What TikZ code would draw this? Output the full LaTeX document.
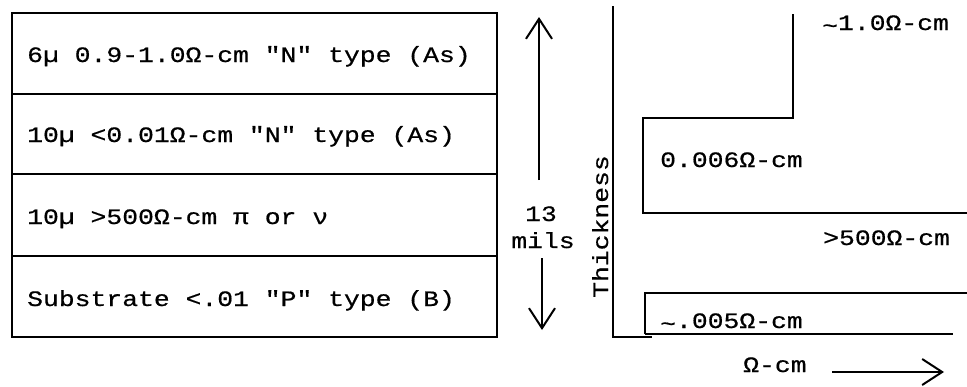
\documentclass[tikz,border=0pt]{standalone}
\usepackage{fontspec}
\newfontfamily\tw[FakeStretch=1.2,FakeBold=0.6]{Liberation Mono}
\usetikzlibrary{arrows.meta}
\newcommand{\wavy}{\raisebox{-3pt}{\textasciitilde}}
\tikzset{
  lbl/.style={font=\tw\fontsize{22}{26}\selectfont, inner sep=0pt, anchor=base west},
  lblc/.style={font=\tw\fontsize{22}{26}\selectfont, inner sep=0pt, anchor=base},
  ln/.style={line width=2pt, line join=miter},
  barb/.style={line width=2pt, -{Straight Barb[length=20pt,width=26pt,line width=2pt]}}
}
\begin{document}
\begin{tikzpicture}[x=1pt,y=-1pt]
\useasboundingbox (0,0) rectangle (967,386);
% layered box
\draw[ln] (12,13) rectangle (497,337);
\coordinate (d1l) at (12,94);  \coordinate (d1r) at (497,94);
\coordinate (d2l) at (12,174); \coordinate (d2r) at (497,174);
\coordinate (d3l) at (12,256); \coordinate (d3r) at (497,256);
\draw[ln] (d1l) -- (d1r);
\draw[ln] (d2l) -- (d2r);
\draw[ln] (d3l) -- (d3r);
\node[lbl] (r1) at (27,62) {6µ 0.9-1.0Ω-cm "N" type (As)};
\node[lbl] (r2) at (27,142) {10µ <0.01Ω-cm "N" type (As)};
\node[lbl] (r3) at (27,224) {10µ >500Ω-cm π or ν};
\node[lbl] (r4) at (27,306) {Substrate <.01 "P" type (B)};
% 13 mils dimension
\node[lblc] (n13) at (541,221) {13};
\node[lblc] (mils) at (543,248) {mils};
\coordinate (upS) at (539,180); \coordinate (upT) at (539,17);
\coordinate (dnS) at (542,258); \coordinate (dnT) at (542,330);
\draw[barb] (upS) -- (upT);
\draw[barb] (dnS) -- (dnT);
% thickness axis
\node[lbl, rotate=90] (thick) at (608,298) {Thickness};
\coordinate (axT) at (613,6); \coordinate (axO) at (613,337); \coordinate (axR) at (652,337);
\draw[ln] (axT) -- (axO) -- (axR);
\coordinate (b0) at (645,334); \coordinate (b1) at (953,334);
\draw[ln] (b0) -- (b1);
% lower step
\coordinate (s1) at (645,293); \coordinate (s2) at (967,293);
\draw[ln] (b0) -- (s1) -- (s2);
% upper step
\coordinate (u0) at (967,213); \coordinate (u1) at (643,213);
\coordinate (u2) at (643,118); \coordinate (u3) at (793,118);
\coordinate (u4) at (793,14);
\draw[ln] (u0) -- (u1) -- (u2) -- (u3) -- (u4);
% labels
\node[lbl] (l1) at (822,30) {\wavy1.0Ω-cm};
\node[lbl] (l2) at (660,167) {0.006Ω-cm};
\node[lbl] (l3) at (823,245) {>500Ω-cm};
\node[lbl] (l4) at (660,328) {\wavy.005Ω-cm};
\node[lbl] (l5) at (743,372) {Ω-cm};
\coordinate (raS) at (832,372); \coordinate (raT) at (944,372);
\draw[barb] (raS) -- (raT);
\end{tikzpicture}
\end{document}
